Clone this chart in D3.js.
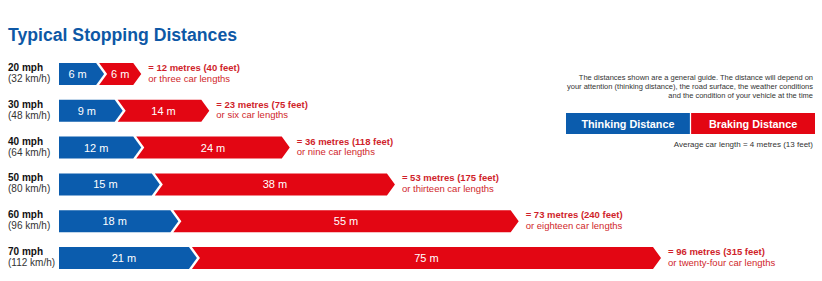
<!DOCTYPE html>
<html><head><meta charset="utf-8">
<script src="https://cdn.jsdelivr.net/npm/d3@7"></script>
<style>
body{margin:0;background:#fff;}
text{font-family:"Liberation Sans",Arial,sans-serif;}
</style></head>
<body><svg id="c" width="822" height="281"></svg>
<script>
const speeds = ["20 mph","30 mph","40 mph","50 mph","60 mph","70 mph"];
const kmh = ["(32 km/h)","(48 km/h)","(64 km/h)","(80 km/h)","(96 km/h)","(112 km/h)"];
const thinking = [6, 9, 12, 15, 18, 21];
const braking = [6, 14, 24, 38, 55, 75];
const totals = ["= 12 metres (40 feet)","= 23 metres (75 feet)","= 36 metres (118 feet)","= 53 metres (175 feet)","= 73 metres (240 feet)","= 96 metres (315 feet)"];
const carLengths = ["or three car lengths","or six car lengths","or nine car lengths","or thirteen car lengths","or eighteen car lengths","or twenty-four car lengths"];
const noteLines = ["The distances shown are a general guide. The distance will depend on",
  "your attention (thinking distance), the road surface, the weather conditions",
  "and the condition of your vehicle at the time"];
const legendLabels = ["Thinking Distance","Braking Distance"];
const footnote = "Average car length = 4 metres (13 feet)";

const BLUE="#0b5cad", RED="#e30613", TXTRED="#d01f2b";
const svg = d3.select("#c");
const x = d3.scaleLinear().domain([0,96]).range([59,653]);
const y = d3.scalePoint().domain(speeds).range([74,258]);
const H = 22, TIP = 8, NOTCH = 3;

svg.append("text").attr("x",8).attr("y",41).attr("fill","#0d58a6")
  .attr("font-family","'Open Sans',sans-serif").attr("font-weight","bold").attr("font-size",17.5)
  .attr("textLength",229).attr("lengthAdjust","spacingAndGlyphs")
  .text("Typical Stopping Distances");

const rows = speeds.map((s,i)=>({s,k:kmh[i],t:thinking[i],b:braking[i],tot:totals[i],cl:carLengths[i]}));

function arrow(x0,x1,cy,notch){
  const t=cy-H/2, b=cy+H/2;
  return `M${x0},${t}L${x1},${t}L${x1+TIP},${cy}L${x1},${b}L${x0},${b}`+(notch?`L${x0+TIP},${cy}Z`:"Z");
}

const g = svg.selectAll("g.row").data(rows).join("g").attr("class","row");
g.append("text").attr("x",8).attr("y",d=>y(d.s)-3).attr("font-weight","bold").attr("font-size",10).attr("fill","#111").text(d=>d.s);
g.append("text").attr("x",8).attr("y",d=>y(d.s)+8).attr("font-size",10).attr("fill","#333").text(d=>d.k);

g.append("path").attr("fill",RED).attr("d",d=>arrow(x(d.t)+NOTCH,x(d.t+d.b),y(d.s),true));
g.append("path").attr("fill","#fff").attr("d",d=>arrow(x(0),x(d.t)+NOTCH-1.5,y(d.s),false));
g.append("path").attr("fill",BLUE).attr("d",d=>arrow(x(0),x(d.t)+NOTCH-3,y(d.s),false));

g.append("text").attr("x",d=>(x(0)+x(d.t)+NOTCH-3)/2).attr("y",d=>y(d.s)+4).attr("text-anchor","middle")
  .attr("fill","#fff").attr("font-size",11).text(d=>d.t+" m");
g.append("text").attr("x",d=>(x(d.t)+NOTCH+TIP+x(d.t+d.b))/2).attr("y",d=>y(d.s)+4).attr("text-anchor","middle")
  .attr("fill","#fff").attr("font-size",11).text(d=>d.b+" m");

g.append("text").attr("x",d=>x(d.t+d.b)+TIP+7).attr("y",d=>y(d.s)-3).attr("fill",TXTRED)
  .attr("font-weight","bold").attr("font-size",9.5).text(d=>d.tot);
g.append("text").attr("x",d=>x(d.t+d.b)+TIP+7).attr("y",d=>y(d.s)+7.5).attr("fill",TXTRED)
  .attr("font-size",9.5).text(d=>d.cl);

svg.selectAll("text.note").data(noteLines).join("text").attr("class","note")
  .attr("x",813).attr("y",(d,i)=>80+i*9).attr("text-anchor","end").attr("font-size",7.5).attr("fill","#333").text(d=>d);

const lx = d3.scaleBand().domain(legendLabels).range([566,815]).paddingInner(0.01);
const lg = svg.selectAll("g.leg").data(legendLabels).join("g").attr("class","leg");
lg.append("rect").attr("x",d=>lx(d)).attr("y",113).attr("width",lx.bandwidth()).attr("height",21)
  .attr("fill",(d,i)=>i?RED:BLUE);
lg.append("text").attr("x",d=>lx(d)+lx.bandwidth()/2).attr("y",128).attr("text-anchor","middle")
  .attr("fill","#fff").attr("font-weight","bold").attr("font-size",10.8).text(d=>d);
svg.append("text").attr("x",813).attr("y",147).attr("text-anchor","end").attr("font-size",8).attr("fill","#333").text(footnote);
</script></body></html>
